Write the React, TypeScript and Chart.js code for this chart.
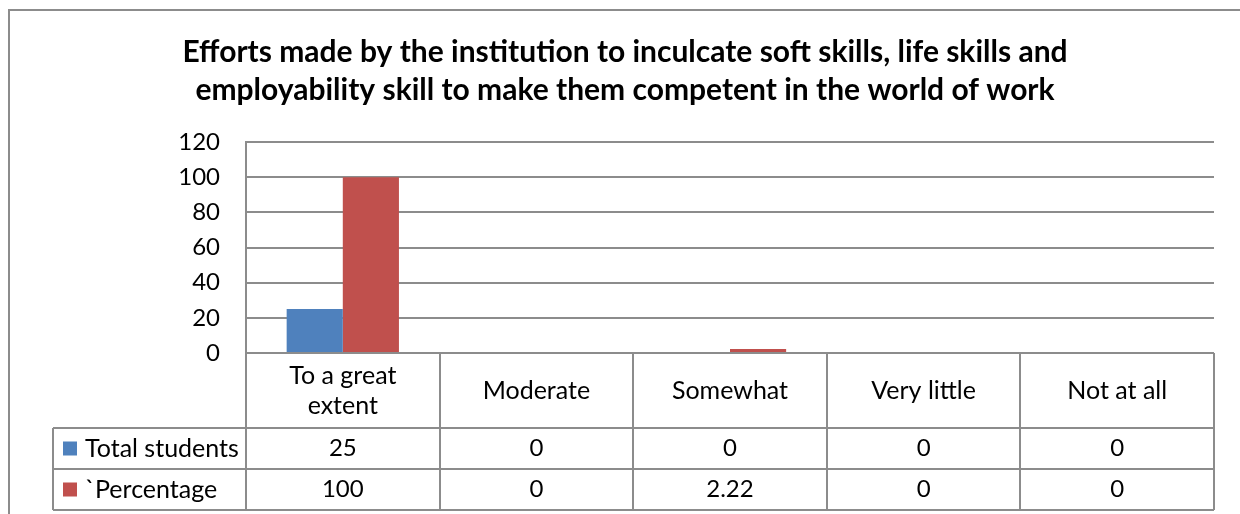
import React, { useEffect, useRef } from 'react';
import { Chart, registerables } from 'chart.js';

Chart.register(...registerables);

const titleLines = [
  'Efforts made by the institution to inculcate soft skills, life skills and',
  'employability skill to make them competent in the world of work',
];
const categories: (string | string[])[] = [['To a great', 'extent'], 'Moderate', 'Somewhat', 'Very little', 'Not at all'];
const seriesNames = ['Total students', '`Percentage'];
const totalStudents = [25, 0, 0, 0, 0];
const percentage = [100, 0, 2.22, 0, 0];
const seriesColors = ['#4F81BD', '#C0504D'];
const yMin = 0;
const yMax = 120;
const yStep = 20;

const FONT = 'Lato, "Open Sans", sans-serif';
const LINE = '#8c8c8c';

const tablePlugin = {
  id: 'dataTable',
  beforeDraw(chart: any) {
    const ctx = chart.ctx;
    ctx.save();
    ctx.fillStyle = '#ffffff';
    ctx.fillRect(0, 0, chart.width, chart.height);
    ctx.strokeStyle = LINE;
    ctx.lineWidth = 2;
    ctx.beginPath();
    ctx.moveTo(9, chart.height);
    ctx.lineTo(9, 10);
    ctx.lineTo(chart.width, 10);
    ctx.stroke();
    ctx.restore();
  },
  afterDraw(chart: any) {
    const ctx = chart.ctx;
    const { left, right, bottom } = chart.chartArea;
    const xs = chart.scales.x;
    const n = categories.length;
    const cw = (right - left) / n;
    const labelRowBottom = bottom + 75;
    const rowH = 41;
    const headerLeft = 53;
    const tableBottom = labelRowBottom + rowH * 2;
    ctx.save();
    ctx.strokeStyle = LINE;
    ctx.lineWidth = 2;
    ctx.beginPath();
    for (let i = 0; i <= n; i++) {
      const x = Math.round(left + cw * i);
      ctx.moveTo(x, bottom);
      ctx.lineTo(x, tableBottom);
    }
    ctx.moveTo(headerLeft, labelRowBottom);
    ctx.lineTo(headerLeft, tableBottom);
    for (let r = 0; r <= 2; r++) {
      const y = labelRowBottom + rowH * r;
      ctx.moveTo(headerLeft, y);
      ctx.lineTo(right, y);
    }
    ctx.moveTo(left, bottom);
    ctx.lineTo(right, bottom);
    ctx.stroke();

    ctx.fillStyle = '#000000';
    ctx.font = '25px ' + FONT;
    ctx.textAlign = 'center';
    ctx.textBaseline = 'middle';
    const labelMid = (bottom + labelRowBottom) / 2;
    categories.forEach((c, i) => {
      const cx = xs.getPixelForValue(i);
      const lines = Array.isArray(c) ? c : [c];
      const lh = 30;
      lines.forEach((t, k) => {
        ctx.fillText(t, cx, labelMid + (k - (lines.length - 1) / 2) * lh);
      });
    });
    const series = [totalStudents, percentage];
    series.forEach((vals, r) => {
      const cy = labelRowBottom + rowH * r + rowH / 2;
      ctx.font = '24px ' + FONT;
      vals.forEach((v, i) => {
        ctx.fillText(String(v), xs.getPixelForValue(i), cy);
      });
      ctx.fillStyle = seriesColors[r];
      ctx.fillRect(63, cy - 7, 14, 14);
      ctx.fillStyle = '#000000';
      ctx.textAlign = 'left';
      ctx.font = '25px ' + FONT;
      ctx.fillText(seriesNames[r], 85, cy);
      ctx.textAlign = 'center';
    });
    ctx.restore();
  },
};

export default function App() {
  const ref = useRef<HTMLCanvasElement>(null);
  useEffect(() => {
    if (!ref.current) return;
    const chart = new Chart(ref.current, {
      type: 'bar',
      data: {
        labels: categories.map((c) => (Array.isArray(c) ? c.join(' ') : c)),
        datasets: [
          { label: seriesNames[0], data: totalStudents, backgroundColor: seriesColors[0] },
          { label: seriesNames[1], data: percentage, backgroundColor: seriesColors[1] },
        ],
      },
      options: {
        responsive: false,
        animation: false,
        layout: { padding: { left: 36, right: 26, top: 0, bottom: 161 } },
        datasets: { bar: { categoryPercentage: 0.58, barPercentage: 1 } },
        plugins: {
          legend: { display: false },
          tooltip: { enabled: false },
          title: {
            display: true,
            text: titleLines,
            color: '#000000',
            font: { family: FONT, size: 30, weight: 'bold', lineHeight: 1.267 },
            padding: { top: 33, bottom: 33 },
          },
        },
        scales: {
          x: {
            display: true,
            grid: { display: false },
            border: { display: false },
            ticks: { display: false },
            afterFit(s: any) { s.height = 0; },
          },
          y: {
            min: yMin,
            max: yMax,
            ticks: { stepSize: yStep, color: '#000000', font: { family: FONT, size: 24 }, padding: 26 },
            grid: { color: LINE, lineWidth: 2, drawTicks: false },
            border: { color: LINE, width: 2 },
            afterFit(s: any) { s.width = 210; },
          },
        },
      },
      plugins: [tablePlugin],
    });
    return () => chart.destroy();
  }, []);
  return (
    <div style={{ position: 'fixed', left: 0, top: 0, width: 1240, height: 514 }}>
      <canvas ref={ref} width={1240} height={514} style={{ display: 'block' }} />
    </div>
  );
}
